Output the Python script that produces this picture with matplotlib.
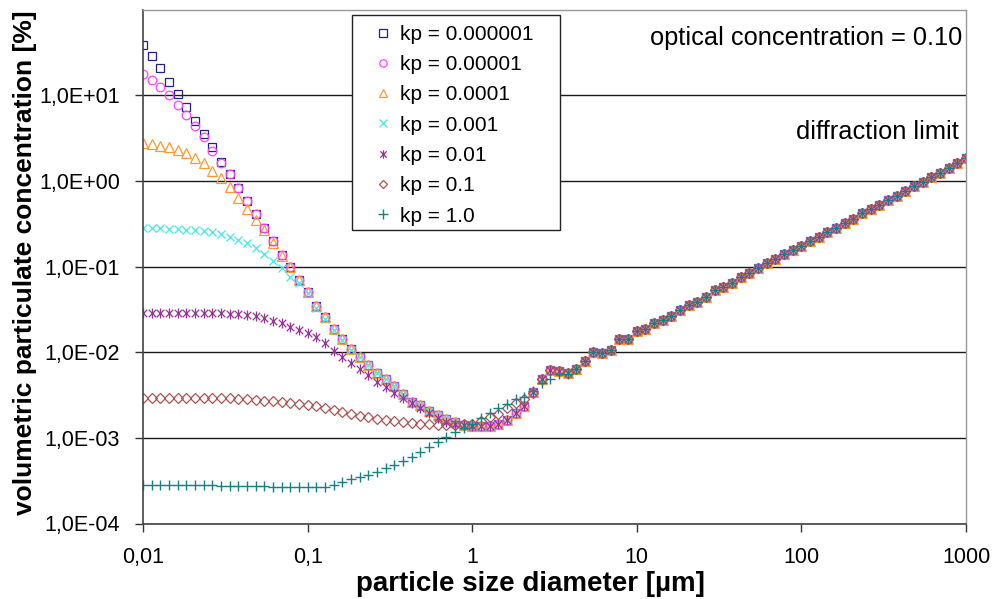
import numpy as np
import matplotlib
matplotlib.use("Agg")
import matplotlib.pyplot as plt
from matplotlib.path import Path
from matplotlib.patches import Rectangle

plt.rcParams['font.family'] = ['Liberation Sans', 'DejaVu Sans']

# ---------------- data ----------------
# particle size diameter [um] (log-spaced sample grid, 19 points per decade)
x_um = [0.01, 0.01129, 0.01274, 0.01438, 0.01624, 0.01833, 0.02069, 0.02336, 0.02637, 0.02976,
        0.0336, 0.03793, 0.04281, 0.04833, 0.05456, 0.06158, 0.06952, 0.07848, 0.08859,
        0.1, 0.1129, 0.1274, 0.1438, 0.1624, 0.1833, 0.2069, 0.2336, 0.2637, 0.2976,
        0.336, 0.3793, 0.4281, 0.4833, 0.5456, 0.6158, 0.6952, 0.7848, 0.8859,
        1.0, 1.129, 1.274, 1.438, 1.624, 1.833, 2.069, 2.336, 2.637, 2.976,
        3.36, 3.793, 4.281, 4.833, 5.456, 6.158, 6.952, 7.848, 8.859,
        10.0, 11.29, 12.74, 14.38, 16.24, 18.33, 20.69, 23.36, 26.37, 29.76,
        33.6, 37.93, 42.81, 48.33, 54.56, 61.58, 69.52, 78.48, 88.59,
        100.0, 112.9, 127.4, 143.8, 162.4, 183.3, 206.9, 233.6, 263.7, 297.6,
        336.0, 379.3, 428.1, 483.3, 545.6, 615.8, 695.2, 784.8, 885.9, 1000.0]

# kp = 0.000001 (reference curve, full length)
kp_1e6 = [38.6, 28.5, 20.5, 14.2, 10.3, 7.18, 4.93, 3.48, 2.45, 1.68,
          1.19, 0.822, 0.585, 0.406, 0.281, 0.196, 0.136, 0.0976, 0.0693, 0.0507,
          0.0345, 0.0255, 0.01875, 0.0141, 0.01096, 0.00869, 0.00701, 0.00575, 0.00482, 0.00406,
          0.00327, 0.00259, 0.00239, 0.00204, 0.00183, 0.00167, 0.00152, 0.00142, 0.00137, 0.00137,
          0.00137, 0.00144, 0.00161, 0.00193, 0.00235, 0.00345, 0.00482, 0.00618, 0.00602, 0.00566,
          0.0063, 0.00794, 0.0101, 0.00984, 0.0106, 0.0141, 0.0141, 0.0175, 0.01845, 0.022,
          0.0237, 0.0266, 0.031, 0.0355, 0.0388, 0.0443, 0.0531, 0.057, 0.0635, 0.0746,
          0.083, 0.0966, 0.1086, 0.122, 0.14, 0.155, 0.173, 0.1995, 0.223, 0.255,
          0.285, 0.325, 0.363, 0.417, 0.468, 0.526, 0.6, 0.673, 0.764, 0.865,
          0.973, 1.107, 1.245, 1.413, 1.603, 1.84]

# leading parts of the other series (they coincide with kp=0.000001 afterwards)
kp_1e5_head = [17.9, 15.0, 12.5, 10.0, 7.64, 5.84, 4.35, 3.26, 2.24, 1.6]
kp_1e4_head = [2.73, 2.68, 2.56, 2.45, 2.28, 2.09, 1.85, 1.6, 1.31, 1.07,
               0.851, 0.634, 0.468, 0.348, 0.266, 0.189, 0.132]
kp_1e3_head = [0.283, 0.279, 0.279, 0.273, 0.271, 0.266, 0.266, 0.259, 0.25, 0.237,
               0.222, 0.203, 0.186, 0.163, 0.14, 0.117, 0.0951, 0.0759, 0.0635, 0.0493,
               0.033, 0.0245, 0.018, 0.0137, 0.0107]
kp_1e2_head = [0.0285, 0.0285, 0.0285, 0.0285, 0.0285, 0.0285, 0.0283, 0.0283, 0.0283, 0.0283,
               0.0281, 0.0279, 0.0275, 0.0264, 0.0248, 0.0232, 0.0217, 0.0198, 0.0183, 0.01655,
               0.0149, 0.0127, 0.0104, 0.00884, 0.00739, 0.0063, 0.0054, 0.00452, 0.00395, 0.00336,
               0.00289, 0.00253, 0.00221, 0.00193, 0.00169, 0.00154, 0.00145, 0.0014]
kp_1e1_head = [0.00289, 0.00289, 0.00289, 0.00289, 0.00289, 0.00289, 0.00289, 0.00289, 0.00289, 0.00289,
               0.00289, 0.00286, 0.00281, 0.00276, 0.00271, 0.00267, 0.00262, 0.00255, 0.00248, 0.00241,
               0.00235, 0.00223, 0.00211, 0.002, 0.0019, 0.00181, 0.00173, 0.00167, 0.00161, 0.00157,
               0.00153, 0.00149, 0.00146, 0.00144, 0.00142, 0.00142, 0.00142, 0.00144, 0.00145, 0.00157,
               0.00173, 0.0019, 0.00221, 0.00253, 0.00284, 0.00336]
kp_1e0_head = [0.000285, 0.000285, 0.000285, 0.000285, 0.000285, 0.000285, 0.000285, 0.000285, 0.000285,
               0.000274, 0.000274, 0.000274, 0.000274, 0.000274, 0.000274,
               0.000267, 0.000267, 0.000267, 0.000267, 0.000267, 0.000267,
               0.00027, 0.000285, 0.000308, 0.000328, 0.000346, 0.000368, 0.000403, 0.000441, 0.000482,
               0.000536, 0.000601, 0.000689, 0.000787, 0.0009, 0.00103, 0.00118, 0.00132, 0.00145, 0.00169,
               0.00193, 0.00221, 0.00248, 0.00281, 0.00302, 0.00355, 0.00433, 0.00482, 0.00555, 0.00555]

labels = ['kp = 0.000001', 'kp = 0.00001', 'kp = 0.0001', 'kp = 0.001',
          'kp = 0.01', 'kp = 0.1', 'kp = 1.0']

xtick_vals = [0.01, 0.1, 1, 10, 100, 1000]
xtick_labels = ['0,01', '0,1', '1', '10', '100', '1000']
ytick_vals = [1e-4, 1e-3, 1e-2, 1e-1, 1e0, 1e1]
ytick_labels = ['1,0E-04', '1,0E-03', '1,0E-02', '1,0E-01', '1,0E+00', '1,0E+01']


def full(head):
    return head + kp_1e6[len(head):]


series = [kp_1e6, full(kp_1e5_head), full(kp_1e4_head), full(kp_1e3_head),
          full(kp_1e2_head), full(kp_1e1_head), full(kp_1e0_head)]

# ---------------- styles ----------------
star = Path([(0, -1), (0, 1), (-0.75, -0.75), (0.75, 0.75), (-0.75, 0.75), (0.75, -0.75)],
            [Path.MOVETO, Path.LINETO, Path.MOVETO, Path.LINETO, Path.MOVETO, Path.LINETO])
styles = [
    dict(marker='s', ms=6.2, mfc='none', mec='#22228a', mew=0.9),
    dict(marker='o', ms=6.2, mfc='none', mec='#ff44ff', mew=0.9),
    dict(marker='^', ms=7.0, mfc='none', mec='#ff9a30', mew=0.9),
    dict(marker='x', ms=6.4, mfc='none', mec='#40eaea', mew=0.9),
    dict(marker=star, ms=7.2, mfc='none', mec='#993399', mew=0.9),
    dict(marker='D', ms=4.7, mfc='none', mec='#b05252', mew=0.9),
    dict(marker='+', ms=7.7, mfc='none', mec='#128282', mew=1.0),
]

W, H = 996, 599
fig = plt.figure(figsize=(W / 100, H / 100), dpi=100)
ax_l, ax_r, ax_t, ax_b = 143, 966, 9.5, 523.5
ax = fig.add_axes([ax_l / W, 1 - ax_b / H, (ax_r - ax_l) / W, (ax_b - ax_t) / H])

handles = []
for ys, st, lab in zip(series, styles, labels):
    h, = ax.plot(x_um, ys, linestyle='none', label=lab, **st)
    handles.append(h)

ax.set_xscale('log')
ax.set_yscale('log')
ax.set_xlim(0.01, 1000)
ax.set_ylim(1e-4, 1e2)
ax.set_xticks(xtick_vals)
ax.set_xticklabels(xtick_labels)
ax.set_yticks(ytick_vals)
ax.set_yticklabels(ytick_labels)
ax.minorticks_off()
ax.tick_params(axis='both', which='major', direction='out', length=6, width=1,
               color='#333333', labelsize=15.5)
ax.tick_params(axis='y', pad=10.5)
ax.tick_params(axis='x', pad=11)
ax.set_axisbelow(True)
ax.yaxis.grid(True, color='#1a1a1a', lw=1.0)
ax.xaxis.grid(False)
for s in ['left', 'bottom']:
    ax.spines[s].set_color('#444444')
    ax.spines[s].set_linewidth(1.2)
for s in ['top', 'right']:
    ax.spines[s].set_color('#999999')
    ax.spines[s].set_linewidth(1.0)

# legend box
box = Rectangle((351.7 / W, 1 - 230 / H), (560 - 351.7) / W, (230 - 15) / H,
                transform=fig.transFigure, facecolor='white', edgecolor='#222222',
                lw=1.0, zorder=10, clip_on=False)
ax.add_patch(box)
leg = ax.legend(handles=handles, loc='upper left',
                bbox_to_anchor=(372.6 / W, 1 - 25 / H), bbox_transform=fig.transFigure,
                frameon=False, fontsize=15, borderpad=0, borderaxespad=0,
                handlelength=1.0, handletextpad=0.32, labelspacing=0.54, markerscale=0.85)
leg.set_zorder(11)

fig.text(962 / W, 1 - 38 / H, 'optical concentration = 0.10', ha='right', va='center', fontsize=18.3)
fig.text(959 / W, 1 - 132 / H, 'diffraction limit', ha='right', va='center', fontsize=18.3)

fig.text(25 / W, 1 - 263 / H, 'volumetric particulate concentration [%]', rotation=90,
         ha='center', va='center', fontsize=19, fontweight='bold')
fig.text(530 / W, 1 - 584 / H, 'particle size diameter [µm]', ha='center', va='center',
         fontsize=20, fontweight='bold')

fig.savefig('out.png', dpi=100)
